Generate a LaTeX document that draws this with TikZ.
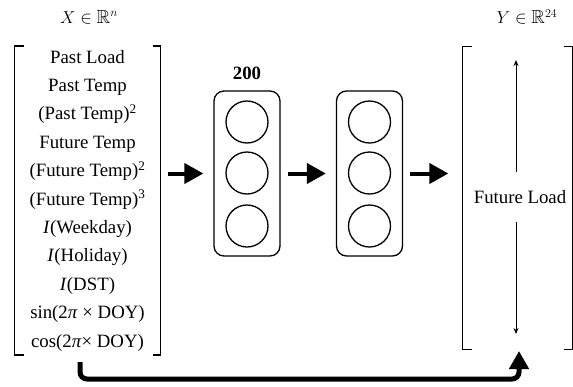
\documentclass[tikz,border=0pt]{standalone}
\usepackage{amsmath}
\usepackage{amssymb}
\usepackage{fontspec}
\setmainfont{Liberation Serif}
\usetikzlibrary{arrows.meta}

\begin{document}
\begin{tikzpicture}[x=1pt, y=-1pt, line width=1.3pt,
	txt/.style={font=\fontsize{18.8}{28.4}\selectfont},
	layer/.style={draw, rounded corners=10pt, minimum width=66pt, minimum height=165pt},
	unit/.style={draw, circle, minimum size=42pt, inner sep=0pt},
	bigarrow/.style={line width=4pt, -{Triangle[length=19pt,width=20pt]}, shorten <=7pt, shorten >=10pt},
	thinarrow/.style={line width=1pt, -{Stealth[length=6pt,width=5pt]}}]
	%\draw[help lines] (0,0) grid (573,386);
	\useasboundingbox (0,0) rectangle (573,386);
	\node[txt] (xspace) at (89,17) {$X \in \mathbb{R}^n$};
	\node[txt] (yspace) at (527,17) {$Y \in \mathbb{R}^{24}$};
	\node[txt, align=center, minimum width=145pt, minimum height=303pt] (inputs) at (87.5,200.5) {Past Load\\ Past Temp\\ (Past Temp)\textsuperscript{2}\\ Future Temp\\ (Future Temp)\textsuperscript{2}\\ (Future Temp)\textsuperscript{3}\\ \textit{I}(Weekday)\\ \textit{I}(Holiday)\\ \textit{I}(DST)\\ sin(2\textit{π} × DOY)\\ cos(2\textit{π}× DOY)};
	\draw ([xshift=10pt]inputs.north west) -- (inputs.north west) -- (inputs.south west) -- ++(10,0);
	\draw ([xshift=-8pt]inputs.north east) -- (inputs.north east) -- (inputs.south east) -- ++(-8,0);
	\node[layer] (hidA) at (247,173.5) {};
	\node[layer] (hidB) at (369.5,173.5) {};
	\foreach \y [count=\i] in {122,173,226} {
		\node[unit] (unitA\i) at (247,\y) {};
		\node[unit] (unitB\i) at (369.5,\y) {};
	}
	\node[txt] (size) at (247,73) {\textbf{200}};
	\node[minimum width=109pt, minimum height=302pt] (outputs) at (517.5,198) {};
	\draw ([xshift=10pt]outputs.north west) -- (outputs.north west) -- (outputs.south west) -- ++(10,0);
	\draw ([xshift=-9pt]outputs.north east) -- (outputs.north east) -- (outputs.south east) -- ++(-9,0);
	\node[txt, minimum height=48pt, inner sep=0pt] (future) at (520,197) {Future Load};
	\coordinate (ytop) at (516,60);
	\coordinate (ybot) at (516,334);
	\draw[thinarrow] (future.north -| ytop) -- (ytop);
	\draw[thinarrow] (future.south -| ybot) -- (ybot);
	\draw[bigarrow] (inputs.east |- hidA.west) -- (hidA.west);
	\draw[bigarrow] (hidA) -- (hidB);
	\draw[bigarrow, shorten >=14pt] (hidB) -- (outputs.west |- hidB.east);
	\coordinate (skipA) at (80,362);
	\coordinate (skipB) at (519,351);
	\draw[line width=5pt, rounded corners=7pt, -{Triangle[length=18pt,width=19pt]}] (skipA) |- ([yshift=-28pt]skipB) -- (skipB);
\end{tikzpicture}
\end{document}
